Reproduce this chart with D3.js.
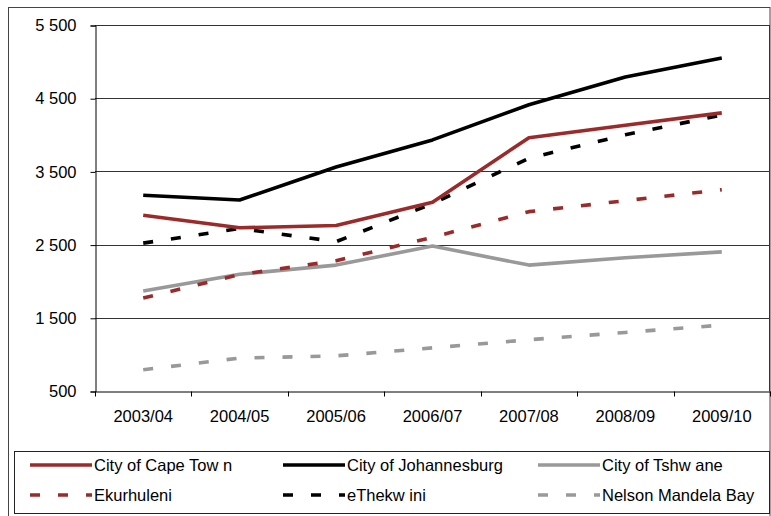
<!DOCTYPE html>
<html>
<head>
<meta charset="utf-8">
<script src="https://cdn.jsdelivr.net/npm/d3@7/dist/d3.min.js"></script>
<style>
  html, body { margin: 0; padding: 0; background: #fff; }
  svg { display: block; font-family: "Liberation Sans", Arial, sans-serif; }
</style>
</head>
<body>
<svg id="chart" width="771" height="516"></svg>
<script>
// Financial years on the x axis
const years = ["2003/04", "2004/05", "2005/06", "2006/07", "2007/08", "2008/09", "2009/10"];

// Metro values per year
const capeTown     = [2900, 2730, 2760, 3080, 3960, 4130, 4300];
const johannesburg = [3175, 3110, 3560, 3930, 4410, 4790, 5050];
const tshwane      = [1865, 2095, 2220, 2480, 2220, 2320, 2400];
const ekurhuleni   = [1770, 2090, 2280, 2600, 2950, 3100, 3250];
const eThekwini    = [2520, 2720, 2540, 3060, 3680, 4000, 4270];
const nelsonMandela = [790, 950, 980, 1090, 1200, 1300, 1400];

const yTicks = [500, 1500, 2500, 3500, 4500, 5500];
const yTickLabels = ["500", "1 500", "2 500", "3 500", "4 500", "5 500"];

const seriesNames = ["City of Cape Tow n", "City of Johannesburg", "City of Tshw ane",
                     "Ekurhuleni", "eThekw ini", "Nelson Mandela Bay"];
const seriesValues = [capeTown, johannesburg, tshwane, ekurhuleni, eThekwini, nelsonMandela];
const seriesColors = ["#9b2b2b", "#000000", "#999999", "#9b2b2b", "#000000", "#999999"];
const seriesDashed = [false, false, false, true, true, true];

const svg = d3.select("#chart");

// Outer frame
svg.append("rect")
  .attr("x", 8.5).attr("y", 7.5).attr("width", 761.5).attr("height", 520)
  .attr("fill", "none").attr("stroke", "#444").attr("stroke-width", 1);

const plot = { left: 95, right: 770, top: 25, bottom: 391 };

const x = d3.scaleBand().domain(years).range([plot.left, plot.right]);
const y = d3.scaleLinear().domain([500, 5500]).range([plot.bottom, plot.top]);

// Horizontal gridlines
svg.append("g")
  .selectAll("line")
  .data(yTicks.slice(1))
  .join("line")
  .attr("x1", plot.left).attr("x2", plot.right)
  .attr("y1", d => Math.round(y(d)) + 0.5).attr("y2", d => Math.round(y(d)) + 0.5)
  .attr("stroke", "#333").attr("stroke-width", 1);

// Right border of the plot area
svg.append("line")
  .attr("x1", plot.right - 0.5).attr("x2", plot.right - 0.5)
  .attr("y1", plot.top).attr("y2", plot.bottom)
  .attr("stroke", "#333");

// Y axis
const yAxis = d3.axisLeft(y)
  .tickValues(yTicks)
  .tickFormat((d, i) => yTickLabels[i])
  .tickSize(5)
  .tickPadding(14);
const gy = svg.append("g")
  .attr("transform", `translate(${plot.left + 0.5},0.5)`)
  .call(yAxis);
gy.select(".domain").attr("stroke", "#000");
gy.selectAll(".tick line").attr("stroke", "#000");
gy.selectAll(".tick text")
  .attr("font-size", 16.5).attr("fill", "#000")
  .attr("font-family", "Liberation Sans, Arial, sans-serif");

// X axis with ticks on band boundaries
const xAxis = d3.axisBottom(x).tickSize(0).tickPadding(19);
const gx = svg.append("g")
  .attr("transform", `translate(0,${plot.bottom + 0.5})`)
  .call(xAxis);
gx.select(".domain").attr("stroke", "#000");
gx.selectAll(".tick text")
  .attr("font-size", 16.5).attr("fill", "#000")
  .attr("font-family", "Liberation Sans, Arial, sans-serif");
gx.selectAll(".boundary")
  .data(years.map(d => x(d)).concat([x.range()[1]]))
  .join("line")
  .attr("class", "boundary")
  .attr("x1", d => Math.round(d) + 0.5).attr("x2", d => Math.round(d) + 0.5)
  .attr("y1", 0).attr("y2", 5)
  .attr("stroke", "#000");

// Series lines
const line = d3.line()
  .x((d, i) => x(years[i]) + x.bandwidth() / 2)
  .y(d => y(d));

const drawOrder = [5, 2, 3, 4, 0, 1];
svg.append("g")
  .selectAll("path")
  .data(drawOrder)
  .join("path")
  .attr("d", k => line(seriesValues[k]))
  .attr("fill", "none")
  .attr("stroke", k => seriesColors[k])
  .attr("stroke-width", 3.6)
  .attr("stroke-linejoin", "round")
  .attr("stroke-dasharray", k => seriesDashed[k] ? "10,18" : null);

// Legend
svg.append("rect")
  .attr("x", 14.5).attr("y", 451.5).attr("width", 755).attr("height", 62)
  .attr("fill", "none").attr("stroke", "#222").attr("stroke-width", 1);

const legendCols = [30, 283, 538];
const legendRows = [465, 495];
const legend = svg.append("g")
  .selectAll("g")
  .data(seriesNames)
  .join("g")
  .attr("transform", (d, i) => `translate(${legendCols[i % 3]},${legendRows[Math.floor(i / 3)]})`);

legend.append("line")
  .attr("x1", 0).attr("x2", 62).attr("y1", 0).attr("y2", 0)
  .attr("stroke", (d, i) => seriesColors[i])
  .attr("stroke-width", 3.6)
  .attr("stroke-dasharray", (d, i) => seriesDashed[i] ? "10,18" : null);

legend.append("text")
  .attr("x", 64).attr("y", 0).attr("dy", "0.35em")
  .attr("font-size", 16.5).attr("fill", "#000")
  .text(d => d);
</script>
</body>
</html>
